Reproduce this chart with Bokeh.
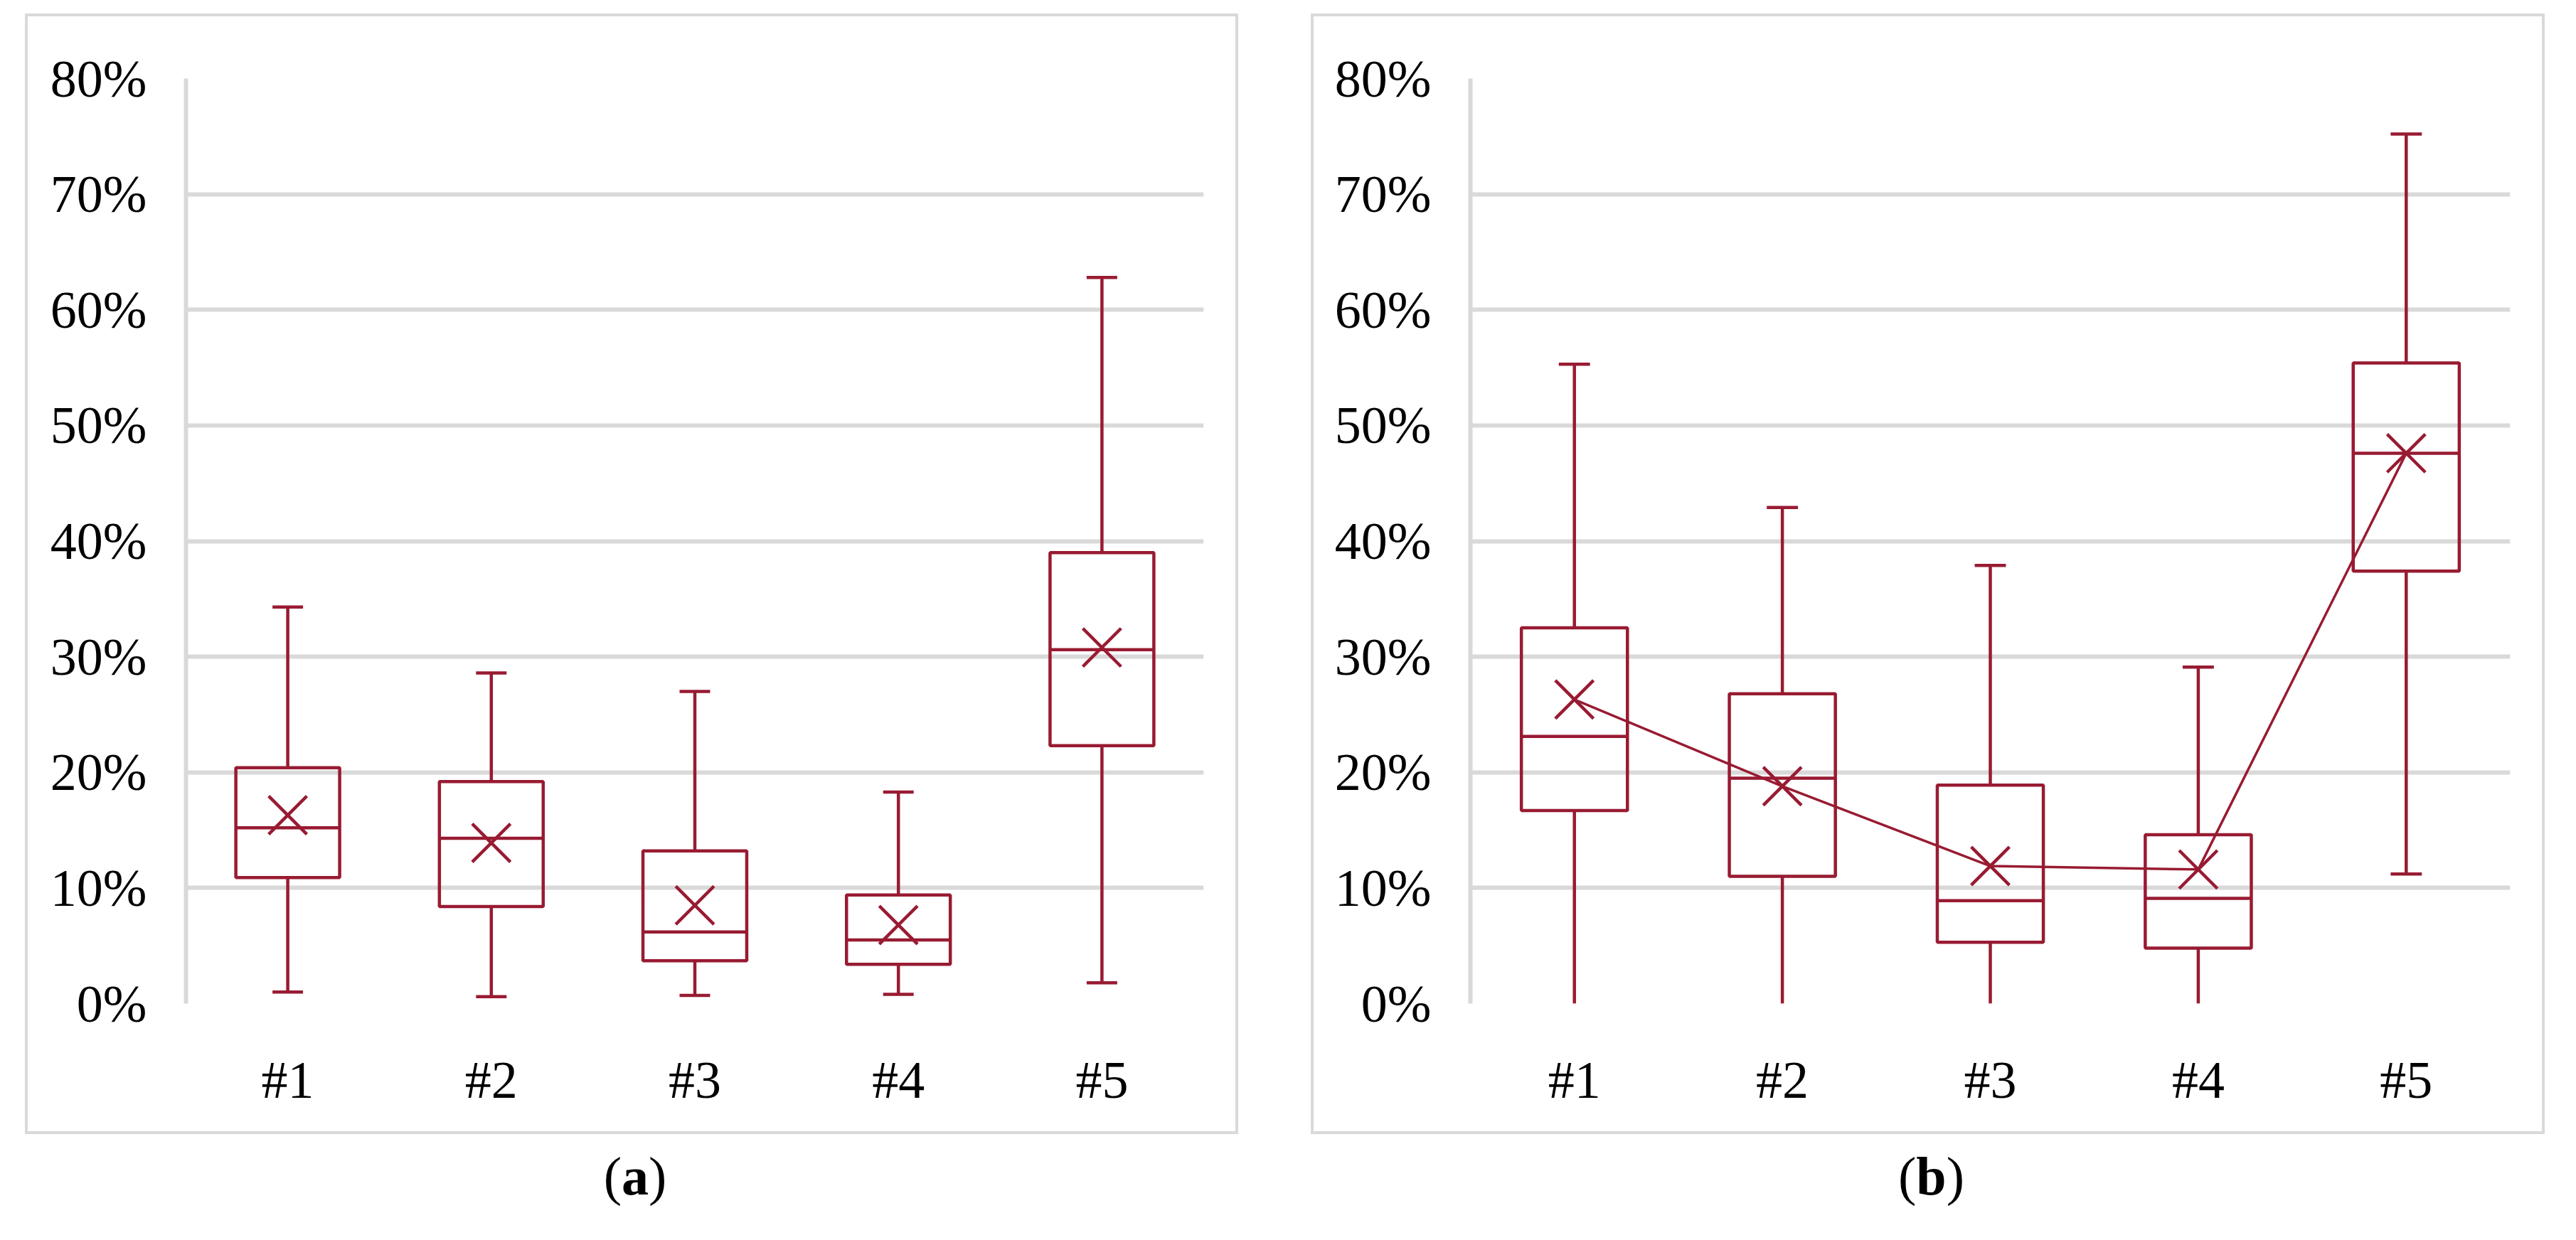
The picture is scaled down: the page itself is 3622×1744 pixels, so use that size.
from bokeh.plotting import figure
from bokeh.models import FactorRange, Range1d, FixedTicker, Div, ColumnDataSource
from bokeh.transform import dodge
from bokeh.layouts import row, column
from bokeh.embed import file_html
from bokeh.resources import INLINE
from bokeh.core.properties import value

categories = ["#1", "#2", "#3", "#4", "#5"]
y_ticks = [0, 10, 20, 30, 40, 50, 60, 70, 80]
y_tick_labels = ["0%", "10%", "20%", "30%", "40%", "50%", "60%", "70%", "80%"]

# panel (a)
a_lower = [1.0, 0.6, 0.7, 0.8, 1.8]
a_q1 = [10.9, 8.4, 3.7, 3.4, 22.3]
a_median = [15.2, 14.3, 6.2, 5.5, 30.6]
a_q3 = [20.4, 19.2, 13.2, 9.4, 39.0]
a_upper = [34.3, 28.6, 27.0, 18.3, 62.8]
a_mean = [16.3, 13.9, 8.5, 6.8, 30.8]

# panel (b)
b_lower = [0.0, 0.0, 0.0, 0.0, 11.2]
b_q1 = [16.7, 11.0, 5.3, 4.8, 37.4]
b_median = [23.1, 19.5, 8.9, 9.1, 47.6]
b_q3 = [32.5, 26.8, 18.9, 14.6, 55.4]
b_upper = [55.3, 42.9, 37.9, 29.1, 75.2]
b_mean = [26.3, 18.8, 11.9, 11.6, 47.6]

RED = "#981B32"
GRID = "#D9D9D9"
FONT = "Liberation Serif"
LW = 4.5


def panel(lower, q1, med, q3, upper, mean, connect, width, border_left):
    p = figure(x_range=FactorRange(*categories), y_range=Range1d(0, 80),
               width=width, height=1576, output_backend="svg",
               toolbar_location=None, min_border_left=border_left,
               min_border_right=53, min_border_top=87, min_border_bottom=188,
               background_fill_color="white", border_fill_color="white",
               outline_line_color=None,
               styles={"border": "4px solid " + GRID, "box-sizing": "border-box"})
    src = ColumnDataSource(dict(cat=categories, lower=lower, q1=q1, med=med,
                                q3=q3, upper=upper, mean=mean))
    # whiskers
    p.segment(x0="cat", y0="q3", x1="cat", y1="upper", source=src,
              line_color=RED, line_width=LW)
    p.segment(x0="cat", y0="q1", x1="cat", y1="lower", source=src,
              line_color=RED, line_width=LW)
    # caps (only where the whisker does not end on the axis)
    cap_cats = [c for c, v in zip(categories, lower) if v > 0]
    cap_low = [v for v in lower if v > 0]
    capsrc_l = ColumnDataSource(dict(cat=cap_cats, y=cap_low))
    p.segment(x0=dodge("cat", -0.075, range=p.x_range), y0="upper",
              x1=dodge("cat", 0.075, range=p.x_range), y1="upper",
              source=src, line_color=RED, line_width=LW)
    p.segment(x0=dodge("cat", -0.075, range=p.x_range), y0="y",
              x1=dodge("cat", 0.075, range=p.x_range), y1="y",
              source=capsrc_l, line_color=RED, line_width=LW)
    # boxes
    p.vbar(x="cat", width=0.51, top="q3", bottom="q1", source=src,
           fill_color=None, line_color=RED, line_width=LW)
    p.segment(x0=dodge("cat", -0.255, range=p.x_range), y0="med",
              x1=dodge("cat", 0.255, range=p.x_range), y1="med",
              source=src, line_color=RED, line_width=LW)
    if connect:
        p.line(x="cat", y="mean", source=src, line_color=RED, line_width=3.5)
    p.scatter(x="cat", y="mean", source=src, marker="x", size=76,
              line_color=RED, line_width=LW)

    p.xgrid.grid_line_color = None
    p.ygrid.ticker = FixedTicker(ticks=y_ticks)
    p.ygrid.grid_line_color = GRID
    p.ygrid.grid_line_width = 6

    p.yaxis.ticker = FixedTicker(ticks=y_ticks)
    p.yaxis.major_label_overrides = {t: l for t, l in zip(y_ticks, y_tick_labels)}
    p.yaxis.axis_line_color = GRID
    p.yaxis.axis_line_width = 6
    p.yaxis.major_tick_line_color = None
    p.yaxis.minor_tick_line_color = None
    p.yaxis.major_tick_out = 0
    p.yaxis.major_label_standoff = 55

    p.xaxis.axis_line_color = None
    p.xaxis.major_tick_line_color = None
    p.xaxis.major_tick_out = 0
    p.xaxis.major_label_standoff = 66

    for ax in (p.xaxis[0], p.yaxis[0]):
        ax.major_label_text_font = FONT
        ax.major_label_text_font_size = "74px"
        ax.major_label_text_color = "black"
    return p


pa = panel(a_lower, a_q1, a_median, a_q3, a_upper, a_mean, False, 1706, 222)
pb = panel(b_lower, b_q1, b_median, b_q3, b_upper, b_mean, True, 1735, 220)

cap_style = {"text-align": "center", "font-family": FONT, "font-size": "76px",
             "color": "black"}
da = Div(text="(<b>a</b>)", width=1706, height=100, styles=cap_style)
db = Div(text="(<b>b</b>)", width=1735, height=100, styles=cap_style)

layout = row(column(pa, da, spacing=0), column(pb, db, spacing=0),
             spacing=92, margin=(19, 0, 0, 35))

open("out.html", "w").write(file_html(layout, INLINE))
